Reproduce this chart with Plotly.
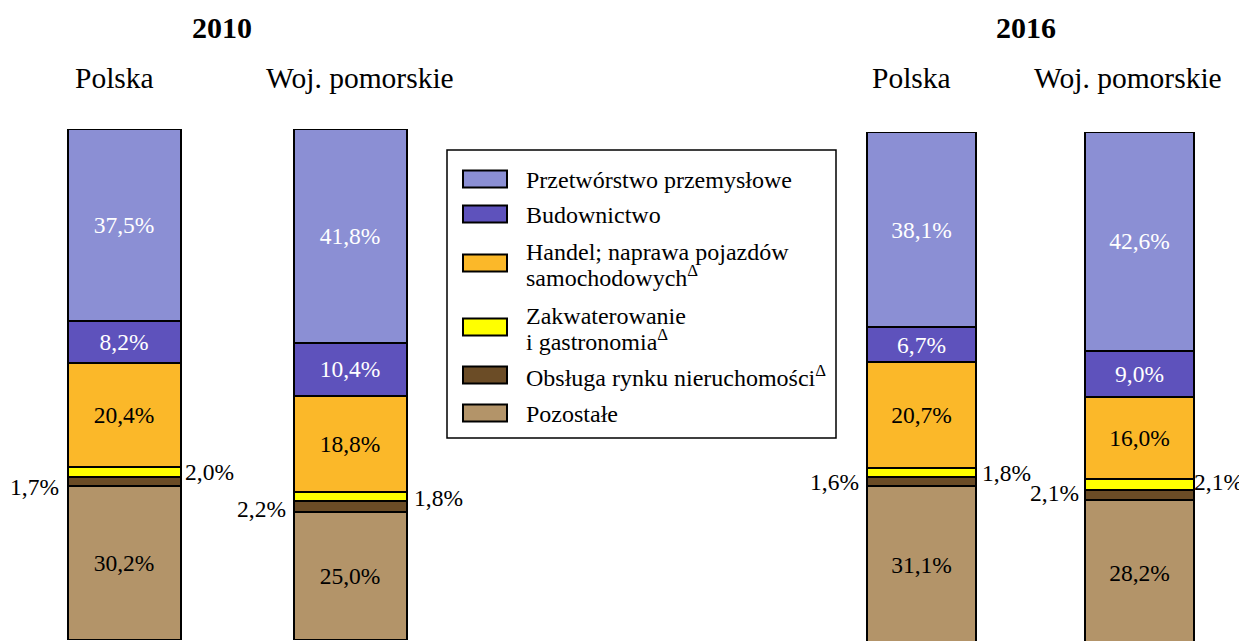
import plotly.graph_objects as go
import numpy as np

# ---------------- data ----------------
categories = ["Polska", "Woj. pomorskie"]
years = ["2010", "2016"]
sector_names = [
    "Pozostałe",
    "Obsługa rynku nieruchomości<sup>Δ</sup>",
    "Zakwaterowanie<br>i gastronomia<sup>Δ</sup>",
    "Handel; naprawa pojazdów<br>samochodowych<sup>Δ</sup>",
    "Budownictwo",
    "Przetwórstwo przemysłowe",
]

pozostale_2010 = [30.2, 25.0]
obsluga_2010 = [1.7, 2.2]
zakwaterowanie_2010 = [2.0, 1.8]
handel_2010 = [20.4, 18.8]
budownictwo_2010 = [8.2, 10.4]
przetworstwo_2010 = [37.5, 41.8]

pozostale_2016 = [31.1, 28.2]
obsluga_2016 = [1.6, 2.1]
zakwaterowanie_2016 = [1.8, 2.1]
handel_2016 = [20.7, 16.0]
budownictwo_2016 = [6.7, 9.0]
przetworstwo_2016 = [38.1, 42.6]

# ---------------- styling ----------------
PAGE_OFF = 8              # default body margin of the html page
W, H = 1247 - PAGE_OFF, 641 - PAGE_OFF
FONT = "Liberation Serif, Times New Roman, serif"
colors = ["#B39469", "#6B4C26", "#FFFF00", "#FBB829", "#5E52BC", "#8B8FD4"]
text_colors = ["black", None, None, "black", "white", "white"]
LBL = 23.5

series = {
    "2010": [pozostale_2010, obsluga_2010, zakwaterowanie_2010,
             handel_2010, budownictwo_2010, przetworstwo_2010],
    "2016": [pozostale_2016, obsluga_2016, zakwaterowanie_2016,
             handel_2016, budownictwo_2016, przetworstwo_2016],
}
axes = {"2010": ("x", "y"), "2016": ("x2", "y2")}


def px_x(p):
    return (p - PAGE_OFF) / W


def px_y(p):
    return 1 - (p - PAGE_OFF) / H


fig = go.Figure()
for yr in years:
    xa, ya = axes[yr]
    for k, vals in enumerate(series[yr]):
        inside = text_colors[k] is not None
        fig.add_trace(go.Bar(
            x=categories, y=vals, xaxis=xa, yaxis=ya,
            name=sector_names[k], showlegend=False,
            marker=dict(color=colors[k], line=dict(color="black", width=2)),
            texttemplate="%{y:.1f}%" if inside else "",
            textposition="inside" if inside else "none",
            insidetextanchor="middle",
            textangle=0,
            constraintext="none",
            textfont=dict(family=FONT, size=LBL,
                          color=text_colors[k] if inside else "black"),
            hoverinfo="skip",
        ))


def fmt(v):
    return f"{v:.1f}".replace(".", ",") + "%"


annotations = []
# outside labels for small segments
yshift_brown = {"2010": [-6, -2], "2016": [-1, 2]}
yshift_yellow = {"2010": [0, -2], "2016": [0, 2]}
gap_left = {"2010": [7, 6], "2016": [6, 4]}
gap_right = {"2010": [3, 6], "2016": [5, -1]}
for yr in years:
    xa, ya = axes[yr]
    poz, obs, zak = (np.array(series[yr][0]), np.array(series[yr][1]),
                     np.array(series[yr][2]))
    for i in range(len(categories)):
        annotations.append(dict(
            x=i - 0.25, y=poz[i] + obs[i] / 2, xref=xa, yref=ya,
            text=fmt(obs[i]), showarrow=False, xanchor="right", yanchor="middle",
            xshift=-gap_left[yr][i], yshift=yshift_brown[yr][i],
            font=dict(family=FONT, size=LBL, color="black")))
        annotations.append(dict(
            x=i + 0.25, y=poz[i] + obs[i] + zak[i] / 2, xref=xa, yref=ya,
            text=fmt(zak[i]), showarrow=False, xanchor="left", yanchor="middle",
            xshift=gap_right[yr][i], yshift=yshift_yellow[yr][i],
            borderpad=0,
            font=dict(family=FONT, size=LBL, color="black")))

# column headers
col_shift = {"2010": [-10, 10], "2016": [-10, -12]}
for yr in years:
    xa, _ = axes[yr]
    for i, c in enumerate(categories):
        annotations.append(dict(
            x=c, y=px_y(78), xref=xa, yref="paper", text=c, showarrow=False,
            xanchor="center", yanchor="middle", xshift=col_shift[yr][i],
            font=dict(family=FONT, size=29.5, color="black")))

# year titles
for yr, cx in zip(years, [222, 1026]):
    annotations.append(dict(
        x=px_x(cx), y=px_y(28), xref="paper", yref="paper",
        text=f"<b>{yr}</b>", showarrow=False, xanchor="center", yanchor="middle",
        font=dict(family=FONT, size=30, color="black")))

# custom legend (top to bottom)
shapes = [dict(type="rect", xref="paper", yref="paper",
               x0=px_x(447), x1=px_x(836), y0=px_y(438), y1=px_y(150),
               line=dict(color="black", width=1.5), fillcolor="white", layer="below")]
legend_centers = [179, 214, 263, 327, 375, 413]
legend_order = list(range(len(sector_names)))[::-1]
for cy, k in zip(legend_centers, legend_order):
    shapes.append(dict(type="rect", xref="paper", yref="paper",
                       x0=px_x(463), x1=px_x(507), y0=px_y(cy + 8.5), y1=px_y(cy - 8.5),
                       line=dict(color="black", width=2), fillcolor=colors[k]))
    lines = sector_names[k].split("<br>")
    n = len(lines)
    for j, ln in enumerate(lines):
        ly = cy + (j - (n - 1) / 2) * 24 + 1
        annotations.append(dict(
            x=px_x(525), y=px_y(ly), xref="paper", yref="paper", text=ln,
            showarrow=False, xanchor="left", yanchor="middle", borderpad=0,
            font=dict(family=FONT, size=24, color="black")))

fig.update_layout(
    width=W, height=H,
    margin=dict(l=0, r=0, t=0, b=0),
    paper_bgcolor="white", plot_bgcolor="rgba(0,0,0,0)",
    barmode="stack", bargap=0.5,
    separators=", ",
    showlegend=False,
    font=dict(family=FONT, color="black"),
    xaxis=dict(domain=[px_x(22.3), px_x(451.7)], range=[-0.45, 1.45], anchor="y",
               visible=False),
    yaxis=dict(domain=[px_y(640), px_y(129)], range=[0, 100], anchor="x", visible=False),
    xaxis2=dict(domain=[px_x(823.4), px_x(1237.6)], range=[-0.45, 1.45], anchor="y2",
                visible=False),
    yaxis2=dict(domain=[0, px_y(132)], range=[0.8, 100], anchor="x2", visible=False),
    annotations=annotations,
    shapes=shapes,
)

fig.write_html("out.html")
